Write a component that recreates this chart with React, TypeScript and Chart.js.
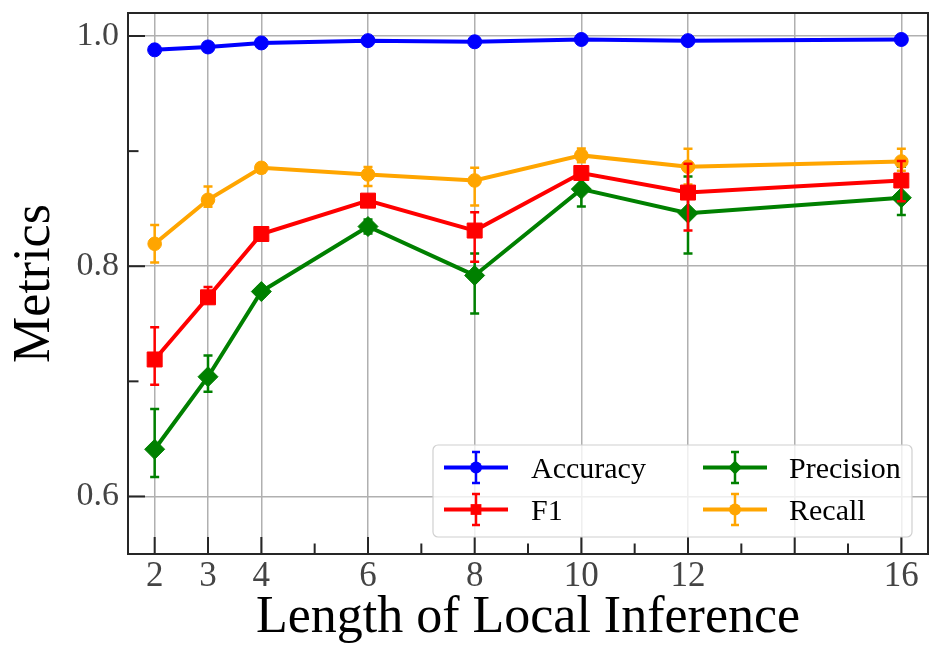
import React, { useEffect, useRef } from "react";
import { Chart, registerables } from "chart.js";

Chart.register(...registerables);

// Length of local inference (x positions)
const lengths = [2, 3, 4, 6, 8, 10, 12, 16];

// Metric means
const accuracy = [0.988, 0.9905, 0.994, 0.996, 0.995, 0.997, 0.996, 0.997];
const f1 = [0.719, 0.773, 0.828, 0.857, 0.831, 0.881, 0.864, 0.8745];
const precision = [0.641, 0.704, 0.778, 0.8345, 0.792, 0.867, 0.846, 0.8595];
const recall = [0.8195, 0.8577, 0.8855, 0.8797, 0.8745, 0.8963, 0.8865, 0.891];

// Error bar extents (above / below the mean)
const accuracyErrUp = [0.001, 0.001, 0.001, 0.001, 0.001, 0.001, 0.001, 0.001];
const accuracyErrDown = [0.001, 0.001, 0.001, 0.001, 0.001, 0.001, 0.001, 0.001];
const f1ErrUp = [0.028, 0.009, 0.004, 0.004, 0.016, 0.005, 0.025, 0.017];
const f1ErrDown = [0.022, 0.005, 0.004, 0.004, 0.027, 0.005, 0.033, 0.018];
const precisionErrUp = [0.035, 0.0185, 0.004, 0.006, 0.019, 0.012, 0.032, 0.027];
const precisionErrDown = [0.024, 0.013, 0.004, 0.006, 0.033, 0.015, 0.035, 0.015];
const recallErrUp = [0.0163, 0.0116, 0.004, 0.0065, 0.011, 0.006, 0.0155, 0.011];
const recallErrDown = [0.0163, 0.006, 0.004, 0.01, 0.0217, 0.006, 0.0155, 0.008];

// Axis ticks
const xGridValues = [2, 3, 4, 6, 8, 10, 12, 14, 16];
const xLabeledValues = [2, 3, 4, 6, 8, 10, 12, 16];
const xMinorValues = [5, 7, 9, 11, 13, 15];
const yMajorValues = [0.6, 0.8, 1.0];
const yMinorValues = [0.7, 0.9];

const SERIF = '"Liberation Serif", "Times New Roman", "DejaVu Serif", serif';
const WIDTH = 929;
const HEIGHT = 650;

type Series = {
  label: string;
  color: string;
  values: number[];
  up: number[];
  down: number[];
  pointStyle: string;
  radius: number;
  legendRadius: number;
  order: number;
};

const series: Series[] = [
  { label: "Accuracy", color: "#0000ff", values: accuracy, up: accuracyErrUp, down: accuracyErrDown, pointStyle: "circle", radius: 7, legendRadius: 6, order: 4 },
  { label: "F1", color: "#ff0000", values: f1, up: f1ErrUp, down: f1ErrDown, pointStyle: "rect", radius: 10.6, legendRadius: 7.5, order: 1 },
  { label: "Precision", color: "#008000", values: precision, up: precisionErrUp, down: precisionErrDown, pointStyle: "rectRot", radius: 10, legendRadius: 7, order: 3 },
  { label: "Recall", color: "#ffa500", values: recall, up: recallErrUp, down: recallErrDown, pointStyle: "circle", radius: 6.8, legendRadius: 6, order: 2 },
];

// Vertical error bars with caps, drawn right after each dataset
const errorBarPlugin = {
  id: "errorBars",
  afterDatasetDraw(chart: any, args: any) {
    const ds = chart.data.datasets[args.index];
    const err = ds.errorBars;
    if (!err) return;
    const { ctx, chartArea } = chart;
    const xs = chart.scales.x;
    const ys = chart.scales.y;
    ctx.save();
    ctx.beginPath();
    ctx.rect(chartArea.left, chartArea.top, chartArea.right - chartArea.left, chartArea.bottom - chartArea.top);
    ctx.clip();
    ctx.strokeStyle = ds.borderColor;
    ctx.lineWidth = 2.5;
    const cap = 4.5;
    ds.data.forEach((pt: any, i: number) => {
      const px = xs.getPixelForValue(pt.x);
      const top = ys.getPixelForValue(pt.y + err.up[i]);
      const bot = ys.getPixelForValue(pt.y - err.down[i]);
      ctx.beginPath();
      ctx.moveTo(px, top);
      ctx.lineTo(px, bot);
      ctx.moveTo(px - cap, top);
      ctx.lineTo(px + cap, top);
      ctx.moveTo(px - cap, bot);
      ctx.lineTo(px + cap, bot);
      ctx.stroke();
    });
    ctx.restore();
  },
};

// Frame around the plot area and inward-pointing tick marks
const framePlugin = {
  id: "frame",
  afterDatasetsDraw(chart: any) {
    const { ctx, chartArea } = chart;
    const xs = chart.scales.x;
    const ys = chart.scales.y;
    const { left, right, top, bottom } = chartArea;
    ctx.save();
    ctx.strokeStyle = "#262626";
    ctx.lineWidth = 2;
    ctx.lineCap = "butt";
    const majorLen = 17;
    const minorLen = 10.5;
    xGridValues.forEach((v) => {
      const px = xs.getPixelForValue(v);
      ctx.beginPath();
      ctx.moveTo(px, bottom);
      ctx.lineTo(px, bottom - majorLen);
      ctx.stroke();
    });
    xMinorValues.forEach((v) => {
      const px = xs.getPixelForValue(v);
      ctx.beginPath();
      ctx.moveTo(px, bottom);
      ctx.lineTo(px, bottom - minorLen);
      ctx.stroke();
    });
    yMajorValues.forEach((v) => {
      const py = ys.getPixelForValue(v);
      ctx.beginPath();
      ctx.moveTo(left, py);
      ctx.lineTo(left + majorLen, py);
      ctx.stroke();
    });
    yMinorValues.forEach((v) => {
      const py = ys.getPixelForValue(v);
      ctx.beginPath();
      ctx.moveTo(left, py);
      ctx.lineTo(left + minorLen, py);
      ctx.stroke();
    });
    ctx.strokeRect(left, top, right - left, bottom - top);
    ctx.restore();
  },
};

function drawMarker(ctx: CanvasRenderingContext2D, style: string, x: number, y: number, r: number) {
  ctx.beginPath();
  if (style === "circle") {
    ctx.arc(x, y, r, 0, Math.PI * 2);
  } else if (style === "rect") {
    ctx.rect(x - r * 0.72, y - r * 0.72, r * 1.44, r * 1.44);
  } else {
    ctx.moveTo(x - r, y);
    ctx.lineTo(x, y - r);
    ctx.lineTo(x + r, y);
    ctx.lineTo(x, y + r);
    ctx.closePath();
  }
  ctx.fill();
}

// Two-column legend box in the lower right of the plot
const legendPlugin = {
  id: "errLegend",
  afterDraw(chart: any) {
    const { ctx, chartArea } = chart;
    const boxRight = chartArea.right - 16;
    const boxBottom = chartArea.bottom - 17;
    const boxW = 479;
    const boxH = 92;
    const bx = boxRight - boxW;
    const by = boxBottom - boxH;
    ctx.save();
    ctx.beginPath();
    ctx.roundRect(bx, by, boxW, boxH, 5);
    ctx.fillStyle = "rgba(255,255,255,0.8)";
    ctx.fill();
    ctx.strokeStyle = "#d0d0d0";
    ctx.lineWidth = 1.2;
    ctx.stroke();

    const colHandleX = [bx + 11, bx + 270];
    const colTextX = [bx + 98, bx + 356];
    const rowY = [by + 22.5, by + 64.5];
    const handleLen = 64;
    series.forEach((s, i) => {
      const col = i < 2 ? 0 : 1;
      const row = i % 2;
      const hx = colHandleX[col];
      const cy = rowY[row];
      const cx = hx + handleLen / 2;
      ctx.strokeStyle = s.color;
      ctx.fillStyle = s.color;
      ctx.lineWidth = 4;
      ctx.beginPath();
      ctx.moveTo(hx, cy);
      ctx.lineTo(hx + handleLen, cy);
      ctx.stroke();
      ctx.lineWidth = 2.5;
      ctx.beginPath();
      ctx.moveTo(cx, cy - 15.5);
      ctx.lineTo(cx, cy + 15.5);
      ctx.moveTo(cx - 4, cy - 15.5);
      ctx.lineTo(cx + 4, cy - 15.5);
      ctx.moveTo(cx - 4, cy + 15.5);
      ctx.lineTo(cx + 4, cy + 15.5);
      ctx.stroke();
      drawMarker(ctx, s.pointStyle, cx, cy, s.legendRadius);
      ctx.fillStyle = "#000";
      ctx.font = `30px ${SERIF}`;
      ctx.textAlign = "left";
      ctx.textBaseline = "alphabetic";
      ctx.fillText(s.label, colTextX[col], cy + 10.5);
    });
    ctx.restore();
  },
};

export default function App() {
  const canvasRef = useRef<HTMLCanvasElement | null>(null);

  useEffect(() => {
    if (!canvasRef.current) return;
    const datasets = series.map((s) => ({
      label: s.label,
      data: lengths.map((x, i) => ({ x, y: s.values[i] })),
      errorBars: { up: s.up, down: s.down },
      borderColor: s.color,
      backgroundColor: s.color,
      borderWidth: 4,
      pointStyle: s.pointStyle,
      pointRadius: s.radius,
      pointBorderWidth: 1,
      pointBorderColor: s.color,
      pointBackgroundColor: s.color,
      tension: 0,
      order: s.order,
    }));

    const chart = new Chart(canvasRef.current, {
      type: "line",
      data: { datasets: datasets as any },
      options: {
        animation: false,
        responsive: false,
        devicePixelRatio: 1,
        layout: { autoPadding: false, padding: { top: 13, right: 1, left: 0, bottom: 0 } },
        plugins: {
          legend: { display: false },
          tooltip: { enabled: false },
        },
        scales: {
          x: {
            type: "linear",
            min: 1.5,
            max: 16.5,
            afterBuildTicks: (s: any) => {
              s.ticks = xGridValues.map((v) => ({ value: v }));
            },
            afterFit: (s: any) => {
              s.height = 96;
              s.paddingLeft = 0;
              s.paddingRight = 0;
            },
            ticks: {
              autoSkip: false,
              maxRotation: 0,
              padding: 2,
              color: "#444",
              font: { family: SERIF, size: 35 },
              callback: (v: any) => (xLabeledValues.includes(Number(v)) ? String(v) : ""),
            },
            grid: { color: "#b0b0b0", lineWidth: 1.5, drawTicks: false },
            border: { display: false },
            title: {
              display: true,
              text: "Length of Local Inference",
              color: "#000",
              font: { family: SERIF, size: 52 },
              padding: { top: 0, bottom: 0 },
            },
          },
          y: {
            type: "linear",
            min: 0.55,
            max: 1.02,
            afterBuildTicks: (s: any) => {
              s.ticks = yMajorValues.map((v) => ({ value: v }));
            },
            afterFit: (s: any) => {
              s.width = 128;
              s.paddingTop = 0;
              s.paddingBottom = 0;
            },
            ticks: {
              padding: 9,
              color: "#444",
              font: { family: SERIF, size: 34 },
              callback: (v: any) => Number(v).toFixed(1),
            },
            grid: { color: "#b0b0b0", lineWidth: 1.5, drawTicks: false },
            border: { display: false },
            title: {
              display: true,
              text: "Metrics",
              color: "#000",
              font: { family: SERIF, size: 52 },
              padding: { top: 4, bottom: 0 },
            },
          },
        },
      } as any,
      plugins: [errorBarPlugin, framePlugin, legendPlugin],
    });
    return () => chart.destroy();
  }, []);

  return (
    <div style={{ position: "absolute", left: 0, top: 0, width: WIDTH, height: HEIGHT, overflow: "hidden", background: "#fff" }}>
      <canvas ref={canvasRef} width={WIDTH} height={HEIGHT} style={{ display: "block", width: WIDTH, height: HEIGHT }} />
    </div>
  );
}
